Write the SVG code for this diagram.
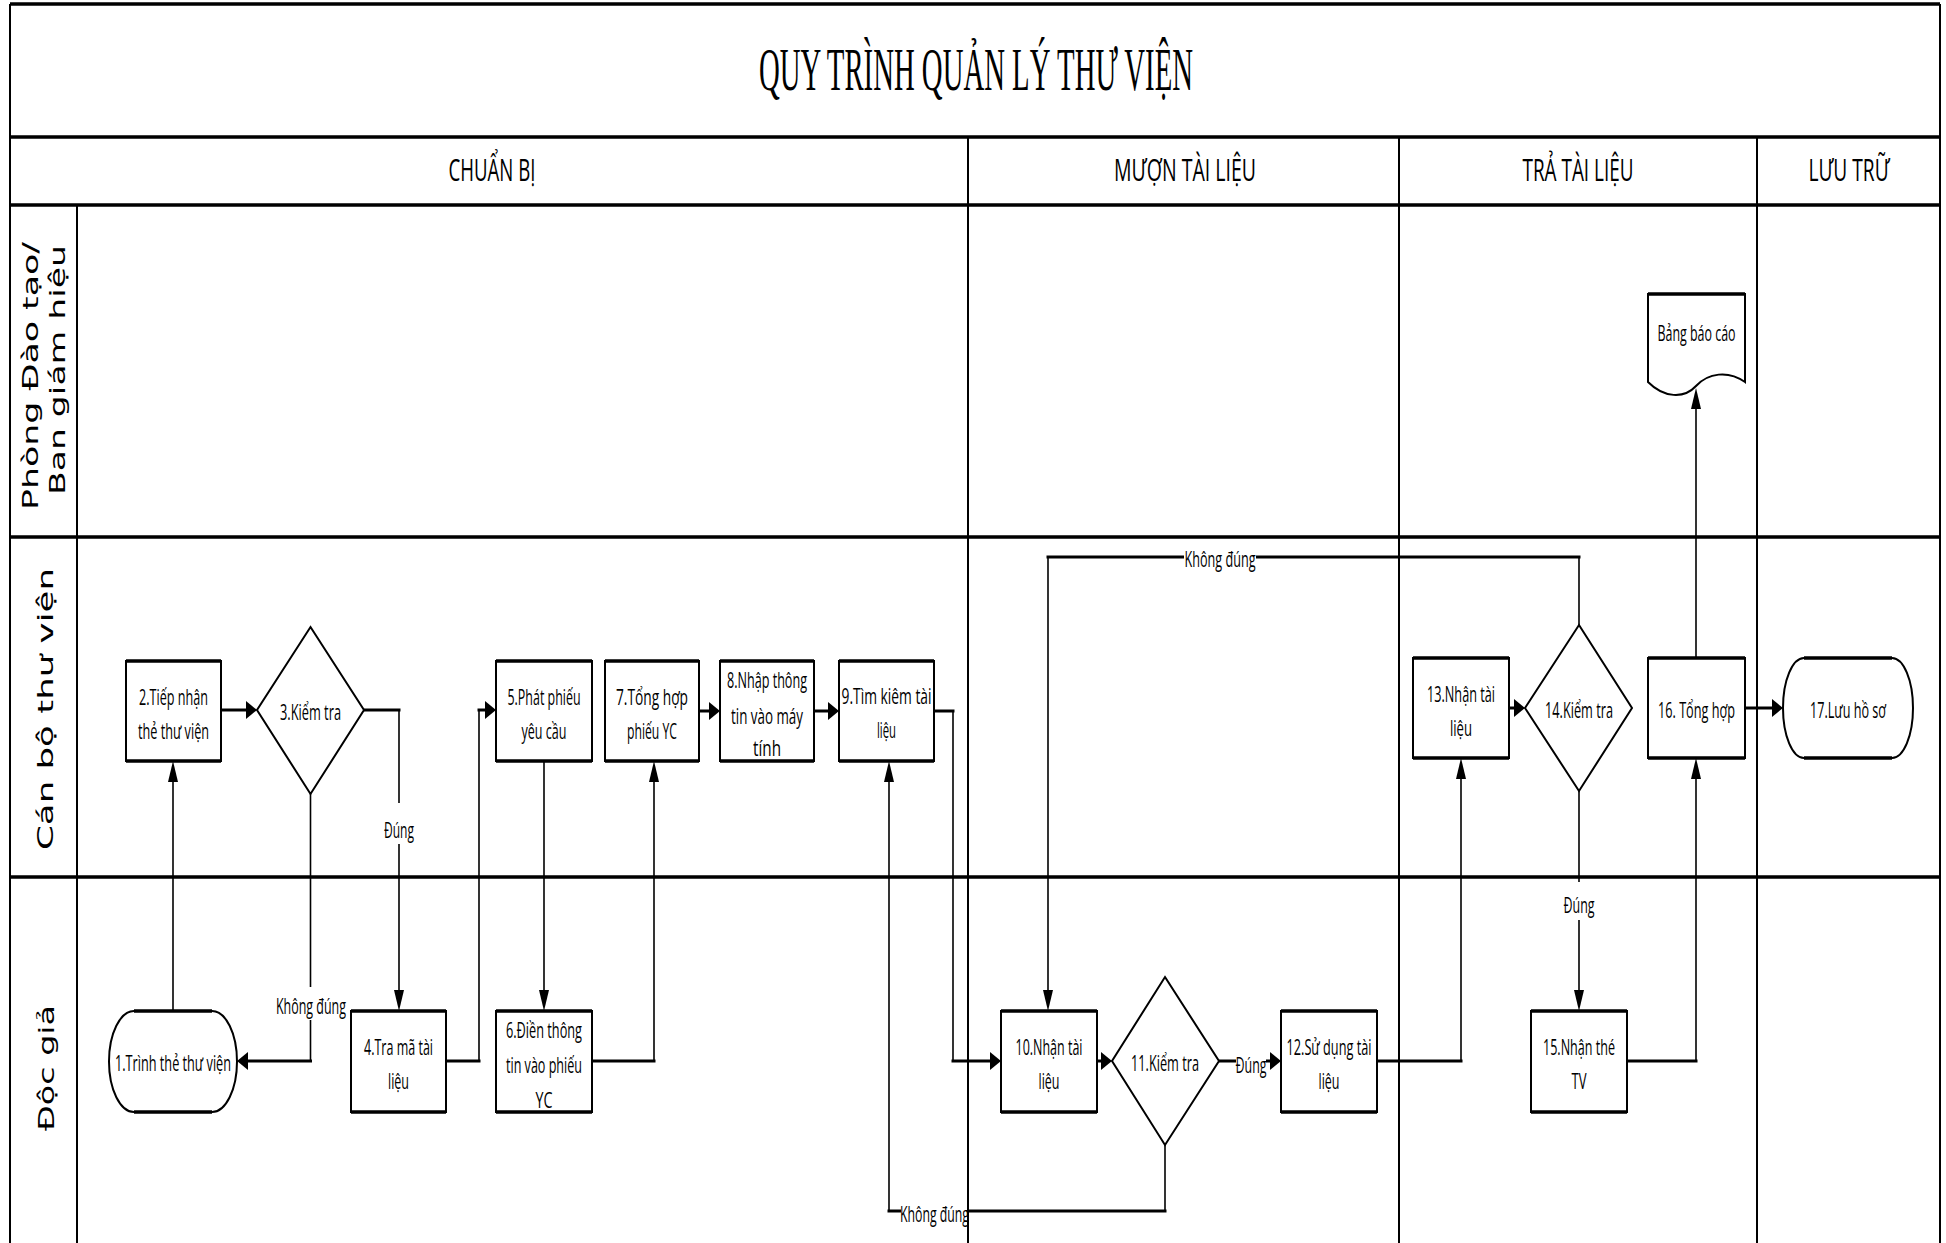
<svg xmlns="http://www.w3.org/2000/svg" width="1946" height="1243" viewBox="0 0 1946 1243">
<style>
.lh{stroke:#000;stroke-width:3.5;fill:none}
.lv{stroke:#000;stroke-width:2;fill:none}
.box{fill:#fff;stroke:#000;stroke-width:2}
.edge{stroke:#000;stroke-width:3.5;fill:none}
.h{stroke:#000;stroke-width:3;fill:none;stroke-linecap:square}
.v{stroke:#000;stroke-width:1.6;fill:none;stroke-linecap:square}
.t{font-family:"Open Sans","Liberation Sans",sans-serif;font-size:22px;fill:#000;text-anchor:middle}
.ttl{font-family:"Liberation Serif",serif;font-size:61px;fill:#000;text-anchor:middle}
.hd{font-family:"Open Sans","Liberation Sans",sans-serif;font-size:31px;fill:#000;text-anchor:middle}
.ln{font-family:"DejaVu Sans",sans-serif;font-size:21px;fill:#000;text-anchor:middle}
.bg{fill:#fff}
</style>
<defs>
<marker id="ah" markerUnits="userSpaceOnUse" markerWidth="12" markerHeight="20" viewBox="0 0 12 20" refX="0" refY="10" orient="auto"><path d="M0,1 L11,10 L0,19 Z" fill="#000"/></marker>
<marker id="av" markerUnits="userSpaceOnUse" markerWidth="22" markerHeight="11" viewBox="0 0 22 11" refX="0" refY="5.5" orient="auto"><path d="M0,0.5 L21,5.5 L0,10.5 Z" fill="#000"/></marker>
</defs>
<rect x="0" y="0" width="1946" height="1243" fill="#fff"/>

<g id="lanes">
<path class="lh" d="M10,4 H1940 M10,137 H1940 M10,205 H1940 M10,537 H1940 M10,877 H1940"/>
<path class="lv" d="M10,4 V1243 M1940,4 V1243 M77,205 V1243 M968,137 V1243 M1399,137 V1243 M1757,137 V1243"/>
<text class="ttl" x="976" y="90" textLength="434" lengthAdjust="spacingAndGlyphs">QUY TRÌNH QUẢN LÝ THƯ VIỆN</text>
<text class="hd" x="492" y="181" textLength="87" lengthAdjust="spacingAndGlyphs">CHUẨN BỊ</text>
<text class="hd" x="1185" y="181" textLength="142" lengthAdjust="spacingAndGlyphs">MƯỢN TÀI LIỆU</text>
<text class="hd" x="1578" y="181" textLength="111" lengthAdjust="spacingAndGlyphs">TRẢ TÀI LIỆU</text>
<text class="hd" x="1849" y="181" textLength="81" lengthAdjust="spacingAndGlyphs">LƯU TRỮ</text>
<text class="ln" transform="translate(38,376) rotate(-90)" textLength="268" lengthAdjust="spacingAndGlyphs">Phòng Đào tạo/</text>
<text class="ln" transform="translate(65,370) rotate(-90)" textLength="250" lengthAdjust="spacingAndGlyphs">Ban giám hiệu</text>
<text class="ln" transform="translate(53,709) rotate(-90)" textLength="282" lengthAdjust="spacingAndGlyphs">Cán bộ thư viện</text>
<text class="ln" transform="translate(54,1068) rotate(-90)" textLength="126" lengthAdjust="spacingAndGlyphs">Độc giả</text>
</g>

<g id="connectors">
<path class="v" d="M173,1011 V782" marker-end="url(#av)"/>
<path class="h" d="M221,710 H246" marker-end="url(#ah)"/>
<path class="h" d="M364,710 H399"/><path class="v" d="M399,710 V990" marker-end="url(#av)"/>
<path class="v" d="M310.5,794 V1061"/><path class="h" d="M310.5,1061 H248" marker-end="url(#ah)"/>
<path class="h" d="M446,1061 H479"/><path class="v" d="M479,1061 V710"/><path class="h" d="M479,710 H485" marker-end="url(#ah)"/>
<path class="v" d="M544,761 V990" marker-end="url(#av)"/>
<path class="h" d="M592,1061 H654"/><path class="v" d="M654,1061 V782" marker-end="url(#av)"/>
<path class="h" d="M699,711 H709" marker-end="url(#ah)"/>
<path class="h" d="M814,711 H828" marker-end="url(#ah)"/>
<path class="h" d="M934,711 H953"/><path class="v" d="M953,711 V1061"/><path class="h" d="M953,1061 H990" marker-end="url(#ah)"/>
<path class="v" d="M1165,1145 V1211"/><path class="h" d="M1165,1211 H889"/><path class="v" d="M889,1211 V782" marker-end="url(#av)"/>
<path class="h" d="M1097,1061 H1101" marker-end="url(#ah)"/>
<path class="h" d="M1219,1061 H1270" marker-end="url(#ah)"/>
<path class="h" d="M1377,1061 H1461"/><path class="v" d="M1461,1061 V779" marker-end="url(#av)"/>
<path class="h" d="M1509,708 H1514" marker-end="url(#ah)"/>
<path class="v" d="M1579,625 V557"/><path class="h" d="M1579,557 H1048"/><path class="v" d="M1048,557 V990" marker-end="url(#av)"/>
<path class="v" d="M1579,791 V990" marker-end="url(#av)"/>
<path class="h" d="M1627,1061 H1696"/><path class="v" d="M1696,1061 V779" marker-end="url(#av)"/>
<path class="v" d="M1696,658 V409" marker-end="url(#av)"/>
<path class="h" d="M1745,708 H1772" marker-end="url(#ah)"/>
<rect class="bg" x="385" y="803" width="28" height="41"/>
<text class="t" x="399" y="838" textLength="30" lengthAdjust="spacingAndGlyphs">Đúng</text>
<rect class="bg" x="275" y="987" width="72" height="33"/>
<text class="t" x="311" y="1014" textLength="70" lengthAdjust="spacingAndGlyphs">Không đúng</text>
<rect class="bg" x="901" y="1198" width="66" height="30"/>
<text class="t" x="934.5" y="1222" textLength="69" lengthAdjust="spacingAndGlyphs">Không đúng</text>
<rect class="bg" x="1236" y="1046" width="30" height="32"/>
<text class="t" x="1251" y="1073" textLength="31" lengthAdjust="spacingAndGlyphs">Đúng</text>
<rect class="bg" x="1184" y="544" width="72" height="30"/>
<text class="t" x="1220" y="567" textLength="71" lengthAdjust="spacingAndGlyphs">Không đúng</text>
<rect class="bg" x="1563" y="882" width="32" height="38"/>
<text class="t" x="1579" y="913" textLength="31" lengthAdjust="spacingAndGlyphs">Đúng</text>
</g>

<g id="n1"><path class="box" d="M134,1011 H212 A25,50.5 0 0 1 212,1112 H134 A25,50.5 0 0 1 134,1011 Z"/><path class="edge" d="M134,1011 H212 M134,1112 H212"/>
<text class="t" x="173" y="1071" textLength="116" lengthAdjust="spacingAndGlyphs">1.Trình thẻ thư viện</text></g>
<g id="n2"><rect class="box" x="126" y="661" width="95" height="100"/><path class="edge" d="M126,661 h95 M126,761 h95"/>
<text class="t" x="173.5" y="705" textLength="69" lengthAdjust="spacingAndGlyphs">2.Tiếp nhận</text>
<text class="t" x="173.5" y="739" textLength="71" lengthAdjust="spacingAndGlyphs">thẻ thư viện</text></g>
<g id="n3"><path class="box" d="M310.5,627 L364,710 L310.5,794 L257,710 Z"/>
<text class="t" x="310.5" y="720" textLength="61" lengthAdjust="spacingAndGlyphs">3.Kiểm tra</text></g>
<g id="n4"><rect class="box" x="351" y="1011" width="95" height="101"/><path class="edge" d="M351,1011 h95 M351,1112 h95"/>
<text class="t" x="398.5" y="1055" textLength="69" lengthAdjust="spacingAndGlyphs">4.Tra mã tài</text>
<text class="t" x="398.5" y="1089" textLength="21" lengthAdjust="spacingAndGlyphs">liệu</text></g>
<g id="n5"><rect class="box" x="496" y="661" width="96" height="100"/><path class="edge" d="M496,661 h96 M496,761 h96"/>
<text class="t" x="544" y="705" textLength="73" lengthAdjust="spacingAndGlyphs">5.Phát phiếu</text>
<text class="t" x="544" y="739" textLength="45" lengthAdjust="spacingAndGlyphs">yêu cầu</text></g>
<g id="n6"><rect class="box" x="496" y="1011" width="96" height="101"/><path class="edge" d="M496,1011 h96 M496,1112 h96"/>
<text class="t" x="544" y="1038" textLength="76" lengthAdjust="spacingAndGlyphs">6.Điền thông</text>
<text class="t" x="544" y="1073" textLength="76" lengthAdjust="spacingAndGlyphs">tin vào phiếu</text>
<text class="t" x="544" y="1108" textLength="17" lengthAdjust="spacingAndGlyphs">YC</text></g>
<g id="n7"><rect class="box" x="605" y="661" width="94" height="100"/><path class="edge" d="M605,661 h94 M605,761 h94"/>
<text class="t" x="652" y="705" textLength="72" lengthAdjust="spacingAndGlyphs">7.Tổng hợp</text>
<text class="t" x="652" y="739" textLength="50" lengthAdjust="spacingAndGlyphs">phiếu YC</text></g>
<g id="n8"><rect class="box" x="720" y="661" width="94" height="100"/><path class="edge" d="M720,661 h94 M720,761 h94"/>
<text class="t" x="767" y="688" textLength="80" lengthAdjust="spacingAndGlyphs">8.Nhập thông</text>
<text class="t" x="767" y="724" textLength="72" lengthAdjust="spacingAndGlyphs">tin vào máy</text>
<text class="t" x="767" y="756" textLength="28" lengthAdjust="spacingAndGlyphs">tính</text></g>
<g id="n9"><rect class="box" x="839" y="661" width="95" height="100"/><path class="edge" d="M839,661 h95 M839,761 h95"/>
<text class="t" x="886.5" y="704" textLength="90" lengthAdjust="spacingAndGlyphs">9.Tìm kiêm tài</text>
<text class="t" x="886.5" y="738" textLength="19" lengthAdjust="spacingAndGlyphs">liệu</text></g>
<g id="n10"><rect class="box" x="1001" y="1011" width="96" height="101"/><path class="edge" d="M1001,1011 h96 M1001,1112 h96"/>
<text class="t" x="1049" y="1055" textLength="67" lengthAdjust="spacingAndGlyphs">10.Nhận tài</text>
<text class="t" x="1049" y="1089" textLength="21" lengthAdjust="spacingAndGlyphs">liệu</text></g>
<g id="n11"><path class="box" d="M1165,977 L1219,1061 L1165,1145 L1112,1061 Z"/>
<text class="t" x="1165" y="1071" textLength="68" lengthAdjust="spacingAndGlyphs">11.Kiểm tra</text></g>
<g id="n12"><rect class="box" x="1281" y="1011" width="96" height="101"/><path class="edge" d="M1281,1011 h96 M1281,1112 h96"/>
<text class="t" x="1329" y="1055" textLength="85" lengthAdjust="spacingAndGlyphs">12.Sử dụng tài</text>
<text class="t" x="1329" y="1089" textLength="21" lengthAdjust="spacingAndGlyphs">liệu</text></g>
<g id="n13"><rect class="box" x="1413" y="658" width="96" height="100"/><path class="edge" d="M1413,658 h96 M1413,758 h96"/>
<text class="t" x="1461" y="702" textLength="68" lengthAdjust="spacingAndGlyphs">13.Nhận tài</text>
<text class="t" x="1461" y="736" textLength="22" lengthAdjust="spacingAndGlyphs">liệu</text></g>
<g id="n14"><path class="box" d="M1579,625 L1632,708 L1579,791 L1525,708 Z"/>
<text class="t" x="1579" y="718" textLength="68" lengthAdjust="spacingAndGlyphs">14.Kiểm tra</text></g>
<g id="n15"><rect class="box" x="1531" y="1011" width="96" height="101"/><path class="edge" d="M1531,1011 h96 M1531,1112 h96"/>
<text class="t" x="1579" y="1055" textLength="72" lengthAdjust="spacingAndGlyphs">15.Nhận thé</text>
<text class="t" x="1579" y="1089" textLength="15" lengthAdjust="spacingAndGlyphs">TV</text></g>
<g id="n16"><rect class="box" x="1648" y="658" width="97" height="100"/><path class="edge" d="M1648,658 h97 M1648,758 h97"/>
<text class="t" x="1696.5" y="718" textLength="77" lengthAdjust="spacingAndGlyphs">16. Tổng hợp</text></g>
<g id="n17"><path class="box" d="M1804,658 H1892 A21,50 0 0 1 1892,758 H1804 A21,50 0 0 1 1804,658 Z"/><path class="edge" d="M1804,658 H1892 M1804,758 H1892"/>
<text class="t" x="1848" y="718" textLength="76" lengthAdjust="spacingAndGlyphs">17.Lưu hồ sơ</text></g>
<g id="n18"><path class="box" d="M1648,294 H1745 V382 C1728,370 1708,373 1696,386 C1684,399 1664,398 1648,382 Z"/><path class="edge" d="M1648,294 H1745"/>
<text class="t" x="1696.5" y="341" textLength="78" lengthAdjust="spacingAndGlyphs">Bảng báo cáo</text></g>
</svg>
